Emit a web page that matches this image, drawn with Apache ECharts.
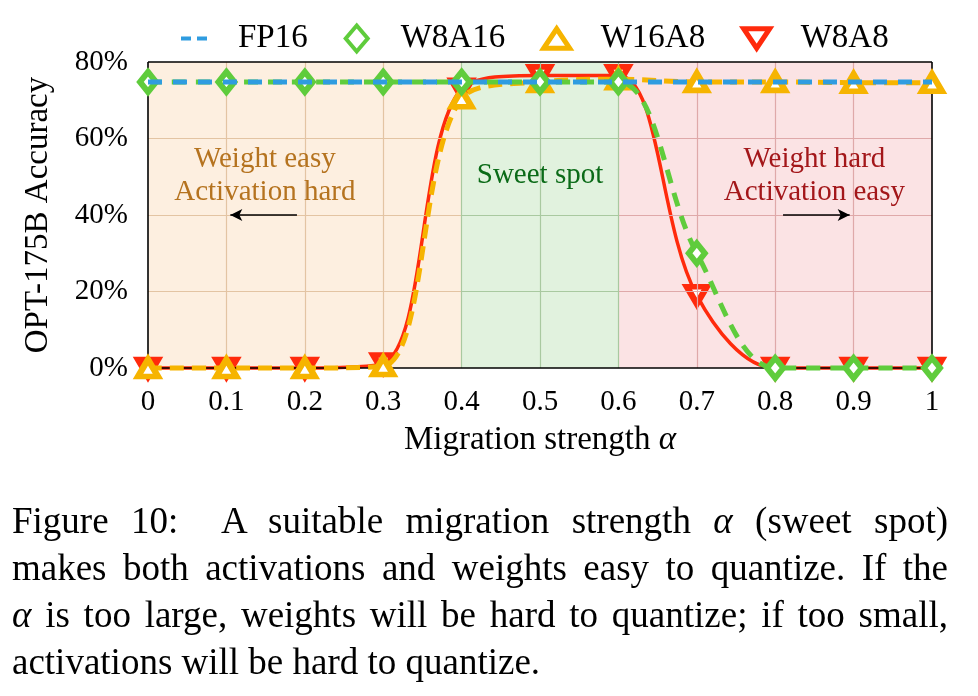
<!DOCTYPE html>
<html>
<head>
<meta charset="utf-8">
<script src="https://cdn.jsdelivr.net/npm/echarts@6/dist/echarts.min.js"></script>
<style>
html,body{margin:0;padding:0;background:#fff;}
#chart{position:absolute;left:0;top:0;width:978px;height:696px;}
#cap{position:absolute;left:12px;top:497px;width:936px;font-family:'Liberation Serif','DejaVu Serif',serif;font-size:37px;line-height:47px;color:#000;}
#cap .j{text-align:justify;text-align-last:justify;white-space:nowrap;}
#cap .l{text-align:left;}
</style>
</head>
<body>
<div id="chart"></div>
<div id="cap">
<div class="j">Figure 10:&nbsp; A suitable migration strength <i>α</i> (sweet spot)</div>
<div class="j">makes both activations and weights easy to quantize. If the</div>
<div class="j"><i>α</i> is too large, weights will be hard to quantize; if too small,</div>
<div class="l">activations will be hard to quantize.</div>
</div>
<script>
// ---- data ----
const alpha = [0, 0.1, 0.2, 0.3, 0.4, 0.5, 0.6, 0.7, 0.8, 0.9, 1];
const fp16  = [74.8, 74.8, 74.8, 74.8, 74.8, 74.8, 74.8, 74.8, 74.8, 74.8, 74.8];
const w8a16 = [74.8, 74.8, 74.8, 74.8, 74.8, 74.8, 74.8, 30, 0, 0, 0];
const w16a8 = [0, 0, 0, 0.5, 70.5, 74.8, 75.5, 74.8, 74.8, 74.6, 74.6];
const w8a8  = [0, 0, 0, 1.2, 73, 76.5, 76.5, 19, 0, 0, 0];
const seriesNames = ['FP16', 'W8A16', 'W16A8', 'W8A8'];
const yTicks = [0, 20, 40, 60, 80];
const bands = [[0, 0.4], [0.4, 0.6], [0.6, 1]];

const serif = "'Liberation Serif', 'DejaVu Serif', serif";
const C = {fp16:'#2f9ce0', w8a16:'#5fcc3c', w16a8:'#f6b400', w8a8:'#ff2a0c'};
const bandFill = ['#fdefe0', '#e1f2de', '#fbe3e4'];
const bandGrid = ['#e3c4a3', '#a9c9a0', '#dfa9a9'];
const pair = arr => alpha.map((a, i) => [a, arr[i]]);

// grid lines coloured per band
const gridLines = [];
bands.forEach((b, bi) => {
  yTicks.slice(1, -1).forEach(y => {
    gridLines.push([{coord: [b[0], y], lineStyle: {color: bandGrid[bi]}}, {coord: [b[1], y]}]);
  });
});
alpha.slice(1, -1).forEach(x => {
  let bi = bands.findIndex(b => x > b[0] - 1e-9 && x < b[1] - 1e-9);
  if (Math.abs(x - 0.4) < 1e-9 || Math.abs(x - 0.6) < 1e-9) bi = 1;
  gridLines.push([{coord: [x, 0], lineStyle: {color: bandGrid[bi]}}, {coord: [x, 80]}]);
});

const hollow = col => ({color: '#fff', borderColor: col, borderWidth: 6});

const chart = echarts.init(document.getElementById('chart'), null, {renderer:'canvas'});
chart.setOption({
  animation: false,
  backgroundColor: '#fff',
  textStyle: {fontFamily: serif, color: '#000'},
  grid: {left: 148, right: 46, top: 62, bottom: 328, show: false},
  legend: {
    left: 176, top: 17, itemWidth: 26, itemHeight: 26, itemGap: 36, symbolKeepAspect: true,
    data: [
      {name: seriesNames[0], icon: 'path://M0,0h10v4h-10z M16,0h10v4h-10z', itemStyle: {color: C.fp16, borderWidth: 0}},
      {name: seriesNames[1], icon: 'path://M11,0L22,13L11,26L0,13Z', itemStyle: {color: '#fff', borderColor: C.w8a16, borderWidth: 4}},
      {name: seriesNames[2], icon: 'path://M0,18L12,0L24,18Z', itemStyle: {color: '#fff', borderColor: C.w16a8, borderWidth: 5}},
      {name: seriesNames[3], icon: 'path://M0,0L24,0L12,18Z', itemStyle: {color: '#fff', borderColor: C.w8a8, borderWidth: 5}}
    ],
    textStyle: {fontFamily: serif, fontSize: 33, color: '#000', padding: [0, 0, 0, 26]}
  },
  xAxis: {
    type: 'value', min: 0, max: 1, interval: 0.1,
    axisLine: {show: false},
    axisTick: {show: false},
    splitLine: {show: false},
    axisLabel: {fontFamily: serif, fontSize: 29, color: '#000', margin: 20,
      formatter: v => String(+v.toFixed(1))},
    name: '{a|Migration strength }{b|α}',
    nameLocation: 'middle', nameGap: 56,
    nameTextStyle: {rich: {
      a: {fontFamily: serif, fontSize: 33, color: '#000'},
      b: {fontFamily: serif, fontSize: 33, fontStyle: 'italic', color: '#000'}
    }}
  },
  yAxis: {
    type: 'value', min: 0, max: 80, interval: 20,
    axisLine: {show: false},
    axisTick: {show: false},
    splitLine: {show: false},
    axisLabel: {fontFamily: serif, fontSize: 29, color: '#000', margin: 20, formatter: '{value}%'},
    name: 'OPT-175B Accuracy', nameLocation: 'middle', nameGap: 93,
    nameTextStyle: {fontFamily: serif, fontSize: 33, color: '#000'}
  },
  series: [
    {
      name: 'bands', type: 'line', data: [], z: 1, silent: true,
      markArea: {
        silent: true,
        data: bands.map((b, i) => [{xAxis: b[0], itemStyle: {color: bandFill[i]}}, {xAxis: b[1]}])
      },
      markPoint: {
        silent: true, symbol: 'circle', symbolSize: 0,
        label: {show: true, position: 'inside', fontFamily: serif, fontSize: 29, lineHeight: 33},
        data: [
          {coord: [0.149, 50.3], value: 0, label: {formatter: 'Weight easy\nActivation hard', color: '#b5731f'}},
          {coord: [0.5, 50.3], value: 0, label: {formatter: 'Sweet spot', color: '#0b6b18'}},
          {coord: [0.85, 50.3], value: 0, label: {formatter: 'Weight hard\nActivation easy', color: '#a3171a'}}
        ]
      }
    },
    {
      name: 'grid', type: 'line', data: [], z: 2, silent: true,
      markLine: {
        silent: true, symbol: ['none', 'none'], label: {show: false},
        lineStyle: {width: 1.2, type: 'solid'},
        data: gridLines
      }
    },
    {
      name: 'frame', type: 'line', data: [], z: 3, silent: true,
      markLine: {
        silent: true, symbol: ['none', 'none'], label: {show: false},
        lineStyle: {color: '#000', width: 1.6, type: 'solid'},
        data: [
          [{coord: [0, 0]}, {coord: [1, 0]}],
          [{coord: [0, 80]}, {coord: [1, 80]}],
          [{coord: [0, 0]}, {coord: [0, 80]}],
          [{coord: [1, 0]}, {coord: [1, 80]}]
        ]
      }
    },
    {
      name: 'arrows', type: 'line', data: [], z: 3, silent: true,
      markLine: {
        silent: true, symbol: ['none', 'arrow'], symbolSize: [9, 12],
        lineStyle: {color: '#000', width: 1.5, type: 'solid'}, label: {show: false},
        data: [
          [{coord: [0.19, 40]}, {coord: [0.105, 40]}],
          [{coord: [0.81, 40]}, {coord: [0.895, 40]}]
        ]
      }
    },
    {
      name: 'W8A8', type: 'line', z: 4, clip: false, smooth: 0.35,
      data: pair(w8a8),
      symbol: 'triangle', symbolRotate: 180, symbolSize: [20, 17],
      itemStyle: hollow(C.w8a8),
      lineStyle: {color: C.w8a8, width: 3.5, type: 'solid'}
    },
    {
      name: 'W16A8', type: 'line', z: 5, clip: false, smooth: 0.35,
      data: pair(w16a8),
      symbol: 'triangle', symbolSize: [20, 17],
      itemStyle: hollow(C.w16a8),
      lineStyle: {color: C.w16a8, width: 5, type: [14, 8]}
    },
    {
      name: 'W8A16', type: 'line', z: 6, clip: false, smooth: 0.35,
      data: pair(w8a16),
      symbol: 'diamond', symbolSize: [16, 20],
      itemStyle: hollow(C.w8a16),
      lineStyle: {color: C.w8a16, width: 5, type: [14, 10]}
    },
    {
      name: 'FP16', type: 'line', z: 7, clip: false,
      data: pair(fp16), symbol: 'none',
      itemStyle: {color: C.fp16},
      lineStyle: {color: C.fp16, width: 5, type: [14, 11]}
    }
  ]
});
</script>
</body>
</html>
